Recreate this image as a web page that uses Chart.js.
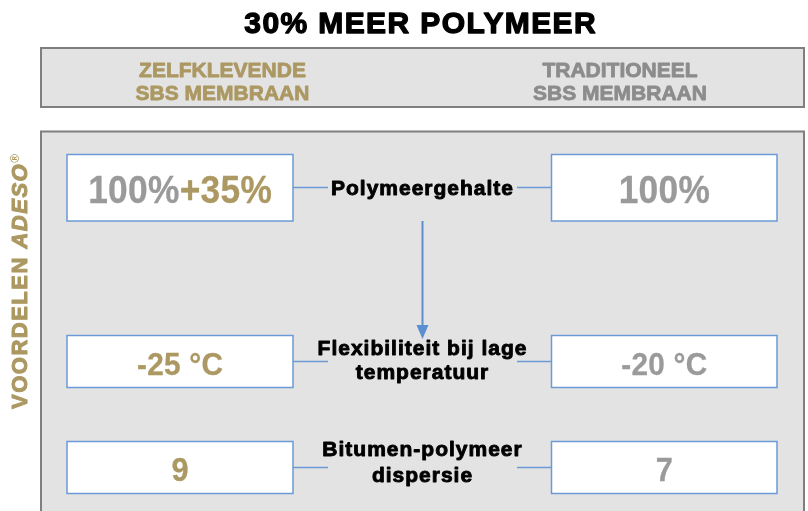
<!DOCTYPE html>
<html><head><meta charset="utf-8">
<script src="https://cdn.jsdelivr.net/npm/chart.js@4"></script>
<style>html,body{margin:0;padding:0;background:#fff}#wrap{width:808px;height:511px;position:relative}</style>
</head><body><div id="wrap"><canvas id="c" width="808" height="511"></canvas></div>
<script>
// ---- data ----
const title = '30% MEER POLYMEER';
const columnHeaders = [['ZELFKLEVENDE', 'SBS MEMBRAAN'], ['TRADITIONEEL', 'SBS MEMBRAAN']];
const sideLabel = ['VOORDELEN ', 'ADESO', '®'];
const properties = [['Polymeergehalte'], ['Flexibiliteit bij lage', 'temperatuur'], ['Bitumen-polymeer', 'dispersie']];
const adesoBase = ['100%', '', ''];
const adesoValues = ['+35%', '-25 °C', '9'];
const traditionalValues = ['100%', '-20 °C', '7'];

// ---- layout & style (not data) ----
const GOLD = '#ac9862', GRAY_V = '#9a9a9a', GRAY_H = '#8c8c8c', BLUE = '#6b9bd6', ARROW = '#5b8fd0';
const PANEL_BG = '#e3e3e3', PANEL_BORDER = '#7f7f7f';
const F = '"Liberation Sans", Arial, Helvetica, sans-serif';
const L = {
  title: {x: 420, y: 32.5},
  header: {x0: 41, y0: 48, x1: 804, y1: 107, lines: [77, 100], cols: [222.5, 620]},
  panel: {x0: 41, y0: 131.5, x1: 804, y1: 530},
  side: {x: 26.5, y: 409},
  leftBox: [67, 293], rightBox: [551.5, 777],
  rows: [{y0: 154.5, y1: 221, base: 203, size: 38}, {y0: 335.5, y1: 387.5, base: 374.5, size: 32}, {y0: 441.5, y1: 493.5, base: 481, size: 33}],
  labelBase: [[194.5], [354.5, 378.5], [455.5, 481.5]],
  connY: [187.5, 361.5, 467.5],
  connL: [293, 328], connR: [517, 551.5],
  arrowX: 422.5, arrowY: [221, 339], centerX: 422
};

function txt(ctx, s, x, y, o) {
  ctx.save();
  ctx.font = o.font; ctx.fillStyle = o.color; ctx.strokeStyle = o.color; ctx.textBaseline = 'alphabetic';
  const ls = o.ls || 0, sx = o.sx || 1;
  ctx.letterSpacing = ls + 'px';
  const w = ctx.measureText(s).width - ls;
  ctx.translate(x, y); ctx.scale(sx, 1);
  const ox = o.align === 'center' ? -w / 2 : (o.align === 'right' ? -w : 0);
  ctx.textAlign = 'left';
  ctx.fillText(s, ox, 0);
  if (o.sw) { ctx.lineWidth = o.sw; ctx.lineJoin = 'round'; ctx.strokeText(s, ox, 0); }
  ctx.restore();
  return w * sx;
}
function measure(ctx, s, font, ls, sx) {
  ctx.save(); ctx.font = font; ctx.letterSpacing = (ls || 0) + 'px';
  const w = (ctx.measureText(s).width - (ls || 0)) * (sx || 1); ctx.restore(); return w;
}

const infographic = {
  id: 'infographic',
  afterDraw(chart) {
    const ctx = chart.ctx, X = v => chart.scales.x.getPixelForValue(v), Y = v => chart.scales.y.getPixelForValue(v);
    const rect = (x0, y0, x1, y1, fill, stroke, lw) => {
      ctx.fillStyle = fill; ctx.fillRect(X(x0), Y(y0), X(x1) - X(x0), Y(y1) - Y(y0));
      ctx.strokeStyle = stroke; ctx.lineWidth = lw; ctx.strokeRect(X(x0), Y(y0), X(x1) - X(x0), Y(y1) - Y(y0));
    };
    ctx.save();
    // title
    txt(ctx, title, X(L.title.x), Y(L.title.y), {font: 'bold 30px ' + F, color: '#000', align: 'center', ls: 1.4, sw: 1.3});
    // header box
    const h = L.header;
    rect(h.x0, h.y0, h.x1, h.y1, PANEL_BG, PANEL_BORDER, 2);
    columnHeaders.forEach((lines, c) => lines.forEach((s, i) =>
      txt(ctx, s, X(h.cols[c]), Y(h.lines[i]), {font: 'bold 21px ' + F, color: c === 0 ? GOLD : GRAY_H, align: 'center', ls: 0, sw: 0.8})));
    // panel
    const p = L.panel;
    rect(p.x0, p.y0, p.x1, p.y1, PANEL_BG, PANEL_BORDER, 2);
    // side label (rotated, reading bottom to top)
    ctx.save();
    ctx.translate(X(L.side.x), Y(L.side.y)); ctx.rotate(-Math.PI / 2);
    const f1 = 'bold 22px ' + F, f2 = 'italic bold 22px ' + F;
    let tx = 0;
    tx += txt(ctx, sideLabel[0], tx, 0, {font: f1, color: GOLD, ls: 1.5, sw: 1.0}) + 1.5;
    tx += txt(ctx, sideLabel[1], tx, 0, {font: f2, color: GOLD, ls: 1.5, sw: 1.0}) + 1.5;
    txt(ctx, sideLabel[2], tx, -8, {font: 'bold 12px ' + F, color: GOLD});
    ctx.restore();
    // rows
    const lc = (L.leftBox[0] + L.leftBox[1]) / 2, rc = (L.rightBox[0] + L.rightBox[1]) / 2;
    properties.forEach((lines, r) => {
      const row = L.rows[r];
      [L.leftBox, L.rightBox].forEach(b => rect(b[0], row.y0, b[1], row.y1, '#fff', BLUE, 1.5));
      // connectors
      ctx.strokeStyle = BLUE; ctx.lineWidth = 1.5;
      ctx.beginPath();
      ctx.moveTo(X(L.connL[0]), Y(L.connY[r])); ctx.lineTo(X(L.connL[1]), Y(L.connY[r]));
      ctx.moveTo(X(L.connR[0]), Y(L.connY[r])); ctx.lineTo(X(L.connR[1]), Y(L.connY[r]));
      ctx.stroke();
      // values
      const vo = {font: 'bold ' + row.size + 'px ' + F, sx: 0.93, ls: 0.3, sw: 0.3};
      if (adesoBase[r]) {
        const wa = measure(ctx, adesoBase[r], vo.font, vo.ls, vo.sx) + vo.ls;
        const wb = measure(ctx, adesoValues[r], vo.font, vo.ls, vo.sx);
        const start = X(lc) - (wa + wb) / 2;
        txt(ctx, adesoBase[r], start, Y(row.base), Object.assign({}, vo, {color: GRAY_V}));
        txt(ctx, adesoValues[r], start + wa, Y(row.base), Object.assign({}, vo, {color: GOLD}));
      } else {
        txt(ctx, adesoValues[r], X(lc), Y(row.base), Object.assign({}, vo, {color: GOLD, align: 'center'}));
      }
      txt(ctx, traditionalValues[r], X(rc), Y(row.base), Object.assign({}, vo, {color: GRAY_V, align: 'center'}));
      // property labels
      lines.forEach((s, i) => txt(ctx, s, X(L.centerX), Y(L.labelBase[r][i]),
        {font: 'bold 21px ' + F, color: '#000', align: 'center', ls: 1.0, sw: 0.9}));
    });
    // arrow
    ctx.strokeStyle = ARROW; ctx.lineWidth = 2;
    ctx.beginPath(); ctx.moveTo(X(L.arrowX), Y(L.arrowY[0])); ctx.lineTo(X(L.arrowX), Y(L.arrowY[1]) - 10); ctx.stroke();
    ctx.fillStyle = ARROW; ctx.beginPath();
    ctx.moveTo(X(L.arrowX) - 6, Y(L.arrowY[1]) - 14); ctx.lineTo(X(L.arrowX) + 6, Y(L.arrowY[1]) - 14); ctx.lineTo(X(L.arrowX), Y(L.arrowY[1]));
    ctx.closePath(); ctx.fill();
    ctx.restore();
  }
};

new Chart(document.getElementById('c'), {
  type: 'scatter',
  data: {datasets: [{data: [], pointRadius: 0}]},
  options: {
    responsive: false, devicePixelRatio: 1, animation: false,
    layout: {padding: 0},
    plugins: {legend: {display: false}, tooltip: {enabled: false}, title: {display: false}},
    scales: {
      x: {type: 'linear', min: 0, max: 808, display: false},
      y: {type: 'linear', min: 0, max: 511, reverse: true, display: false}
    }
  },
  plugins: [infographic]
});
</script></body></html>
